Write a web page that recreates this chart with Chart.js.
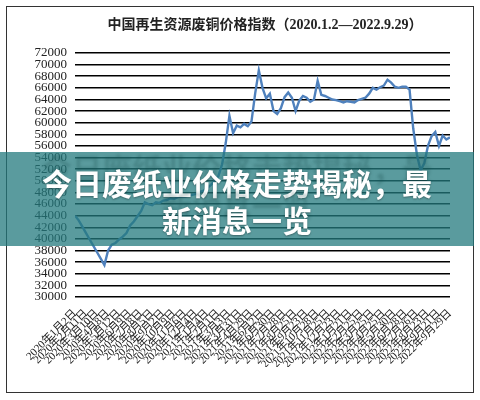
<!DOCTYPE html>
<html>
<head>
<meta charset="utf-8">
<script src="https://cdn.jsdelivr.net/npm/chart.js@4"></script>
<style>
  body { margin: 0; background: #fff; }
  #wrap { position: relative; width: 480px; height: 400px; }
  #frame { position: absolute; left: 6px; top: 6px; width: 466px; height: 385px; border: 1px solid #333; pointer-events: none; }
  #title {
    position: absolute; left: 25px; top: 16px; width: 480px; text-align: center;
    font: bold 14px "Liberation Serif", "Noto Sans CJK SC", serif; line-height: 18px; color: #222;
  }
  #banner { position: absolute; left: 0; top: 152px; width: 474px; height: 94px; background: rgba(35, 121, 125, 0.75); }
  #banner div {
    width: 400px; margin: 0 auto; padding-top: 12px;
    font: bold 30px "Noto Sans CJK SC", sans-serif; line-height: 37px;
    color: #fff; text-align: center;
    text-shadow: 0 1px 2px rgba(0, 0, 0, 0.35), 0 -15px 3px rgba(20, 70, 72, 0.25);
  }
</style>
</head>
<body>
<div id="wrap">
  <canvas id="priceChart" width="480" height="400"></canvas>
  <div id="frame"></div>
  <div id="title"></div>
  <div id="banner"><div>今日废纸业价格走势揭秘，最新消息一览</div></div>
</div>
<script>
const chartTitle = '中国再生资源废铜价格指数（2020.1.2—2022.9.29）';

// one label per tick on the date axis
const dateLabels = [
  '2020年1月2日', '2020年2月11日', '2020年3月10日', '2020年4月8日', '2020年5月12日',
  '2020年6月9日', '2020年7月8日', '2020年8月5日', '2020年9月2日', '2020年10月9日',
  '2020年11月6日', '2020年12月4日', '2021年1月4日', '2021年2月1日', '2021年3月3日',
  '2021年3月31日', '2021年4月29日', '2021年6月2日', '2021年6月30日', '2021年7月28日',
  '2021年8月25日', '2021年9月23日', '2021年10月28日', '2021年11月25日', '2021年12月23日',
  '2022年1月21日', '2022年2月25日', '2022年3月25日', '2022年4月25日', '2022年5月30日',
  '2022年6月28日', '2022年7月26日', '2022年8月23日', '2022年9月21日', '2022年9月29日',
];

// index values, three readings per label interval
const priceIndex = [
  44000, 43200, 42100, 41000, 39900, 38800, 37700, 36600, 35500, 38000,
  39000, 39300, 39900, 40400, 41000, 42300, 43000, 43900, 44800, 46300,
  46000, 45800, 46300, 46200, 46600, 46700, 47000, 46900, 47200, 47300,
  47300, 47500, 47600, 47800, 48100, 48300, 48800, 49300, 50000, 50800,
  52800, 56500, 61200, 58200, 59500, 59200, 59800, 59400, 60200, 65000,
  69000, 66000, 64200, 65000, 62000, 61500, 62500, 64400, 65200, 64300,
  62000, 63800, 64600, 64300, 63600, 64000, 67200, 64800, 64600, 64300,
  64000, 63900, 63700, 63500, 63700, 63600, 63500, 63900, 64100, 64300,
  65000, 66000, 65700, 66100, 66400, 67400, 66900, 66200, 66000, 66200,
  66200, 65700, 59000, 54500, 51800, 53000, 56000, 57700, 58400, 56000,
  57800, 57100, 57500,
];
const perLabel = 3;

document.getElementById('title').textContent = chartTitle;

const points = priceIndex.map((v, i) => ({ x: i / perLabel, y: v }));

new Chart(document.getElementById('priceChart'), {
  type: 'line',
  data: {
    datasets: [{
      data: points,
      borderColor: '#4f81bd',
      borderWidth: 2.4,
      pointRadius: 0,
      tension: 0,
    }]
  },
  options: {
    responsive: false,
    animation: false,
    layout: { padding: { top: 53, left: 7, right: 30, bottom: 33 } },
    plugins: {
      legend: { display: false },
      tooltip: { enabled: false },
    },
    scales: {
      x: {
        type: 'linear',
        min: 0,
        max: dateLabels.length - 1,
        grid: { display: false },
        border: { display: false },
        afterFit: (s) => { s.height = 70; },
        ticks: {
          stepSize: 1,
          autoSkip: false,
          minRotation: 45,
          maxRotation: 45,
          padding: 2,
          color: '#222',
          font: { family: '"Liberation Serif", "Noto Sans CJK SC"', size: 11 },
          callback: (v) => dateLabels[v],
        },
      },
      y: {
        min: 30000,
        max: 72000,
        afterFit: (s) => { s.width = 68; },
        grid: { color: '#000', lineWidth: 1.5, drawTicks: false },
        border: { display: false },
        ticks: {
          stepSize: 2000,
          autoSkip: false,
          padding: 8,
          color: '#222',
          font: { family: '"Liberation Serif"', size: 13 },
          callback: (v) => String(v),
        },
      },
    },
  },
});
</script>
</body>
</html>
